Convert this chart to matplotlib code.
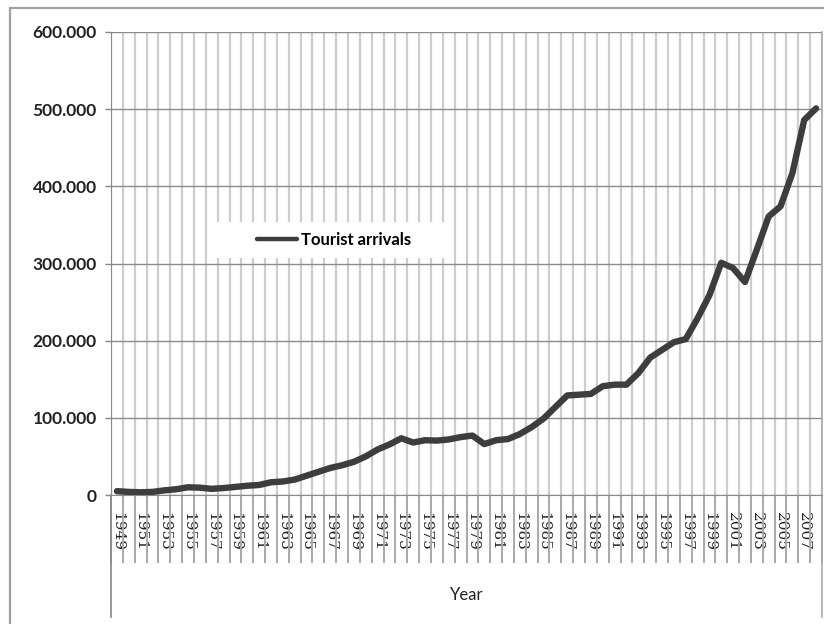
import matplotlib.pyplot as plt
from matplotlib.patches import Rectangle
from matplotlib.ticker import FuncFormatter, MultipleLocator

# tourist arrivals (thousands)
years = list(range(1949, 2009))
arrivals = [5, 4, 3.5, 4, 6, 7.5, 10, 9.5, 8, 9,
            10.5, 12, 13, 16.5, 17.5, 20, 25, 30, 35, 38.5,
            43, 50, 59, 65.5, 73.5, 68, 71, 70.5, 72, 75,
            77, 66, 71, 72.5, 79, 88, 99, 114, 129, 130,
            131, 141, 143, 143, 158, 178, 188, 198, 202, 229,
            259, 301, 294, 276, 318, 361, 374, 417, 486, 501]
tick_years = years[::2]

W, H = 824, 624
fig = plt.figure(figsize=(W / 100, H / 100), dpi=100)
ax = fig.add_axes([111 / W, 1 - 495 / H, 711 / W, (495 - 32) / H])

pos = [i + 0.5 for i in range(len(years))]
ax.plot(pos, arrivals, color='#3d3d3d', lw=4.6, solid_joinstyle='round',
        solid_capstyle='round', label='Tourist arrivals', zorder=3)

ax.set_xlim(0, len(years))
ax.set_ylim(0, 600)
ax.yaxis.set_major_locator(MultipleLocator(100))
ax.yaxis.set_major_formatter(FuncFormatter(lambda v, p: f"{v * 1000:,.0f}".replace(",", ".")))

ax.set_xticks([i + 0.5 for i in range(0, len(years), 2)])
ax.set_xticklabels([str(y) for y in tick_years], rotation=270,
                   family='DejaVu Serif', fontsize=11, color='#222222')
ax.set_xticks(range(len(years) + 1), minor=True)
ax.tick_params(axis='x', which='major', length=0, pad=12)
ax.tick_params(axis='x', which='minor', length=49, width=1.4, color='#a8a8a8')
ax.tick_params(axis='y', length=4.3, width=1, color='#888888', pad=6)
for lab in ax.get_yticklabels():
    lab.set_family('Lato')
    lab.set_fontweight('bold')
    lab.set_fontsize(12.5)
    lab.set_color('#222222')

ax.set_axisbelow(True)
ax.grid(axis='y', which='major', color='#8a8a8a', lw=1)
ax.grid(axis='x', which='minor', color='#cdcdcd', lw=1.6)
for s in ['top', 'right']:
    ax.spines[s].set_visible(False)
ax.spines['left'].set_color('#888888')
ax.spines['bottom'].set_color('#8a8a8a')

# outer lines of the two-level category box
ax.axvline(0, ymin=-0.264, ymax=0, color='#888888', lw=1.2, clip_on=False)
ax.axvline(len(years), ymin=-0.264, ymax=1, color='#aaaaaa', lw=1.2, clip_on=False)
ax.text(0.5, -0.216, 'Year', transform=ax.transAxes, ha='center', va='center',
        family='Lato', fontsize=12, color='#222222')

# white patch behind legend
ax.add_patch(Rectangle((105 / 711, (495 - 258) / 463), 237 / 711, 36 / 463,
                       transform=ax.transAxes, facecolor='white', edgecolor='none', zorder=1))
leg = ax.legend(loc='center left', bbox_to_anchor=(138 / 711, (495 - 240) / 463),
                frameon=False, handlelength=2.4, handletextpad=0.2, borderpad=0,
                prop={'family': 'Lato', 'weight': 'bold', 'size': 12})
leg.get_lines()[0].set_linewidth(3.2)

# outer chart frame
fig.add_artist(Rectangle((10 / W, -0.1), 2, 1 - 8 / H + 0.1, transform=fig.transFigure,
                         fill=False, edgecolor='#a0a0a0', lw=1.6))

fig.savefig('out.png', dpi=100)
